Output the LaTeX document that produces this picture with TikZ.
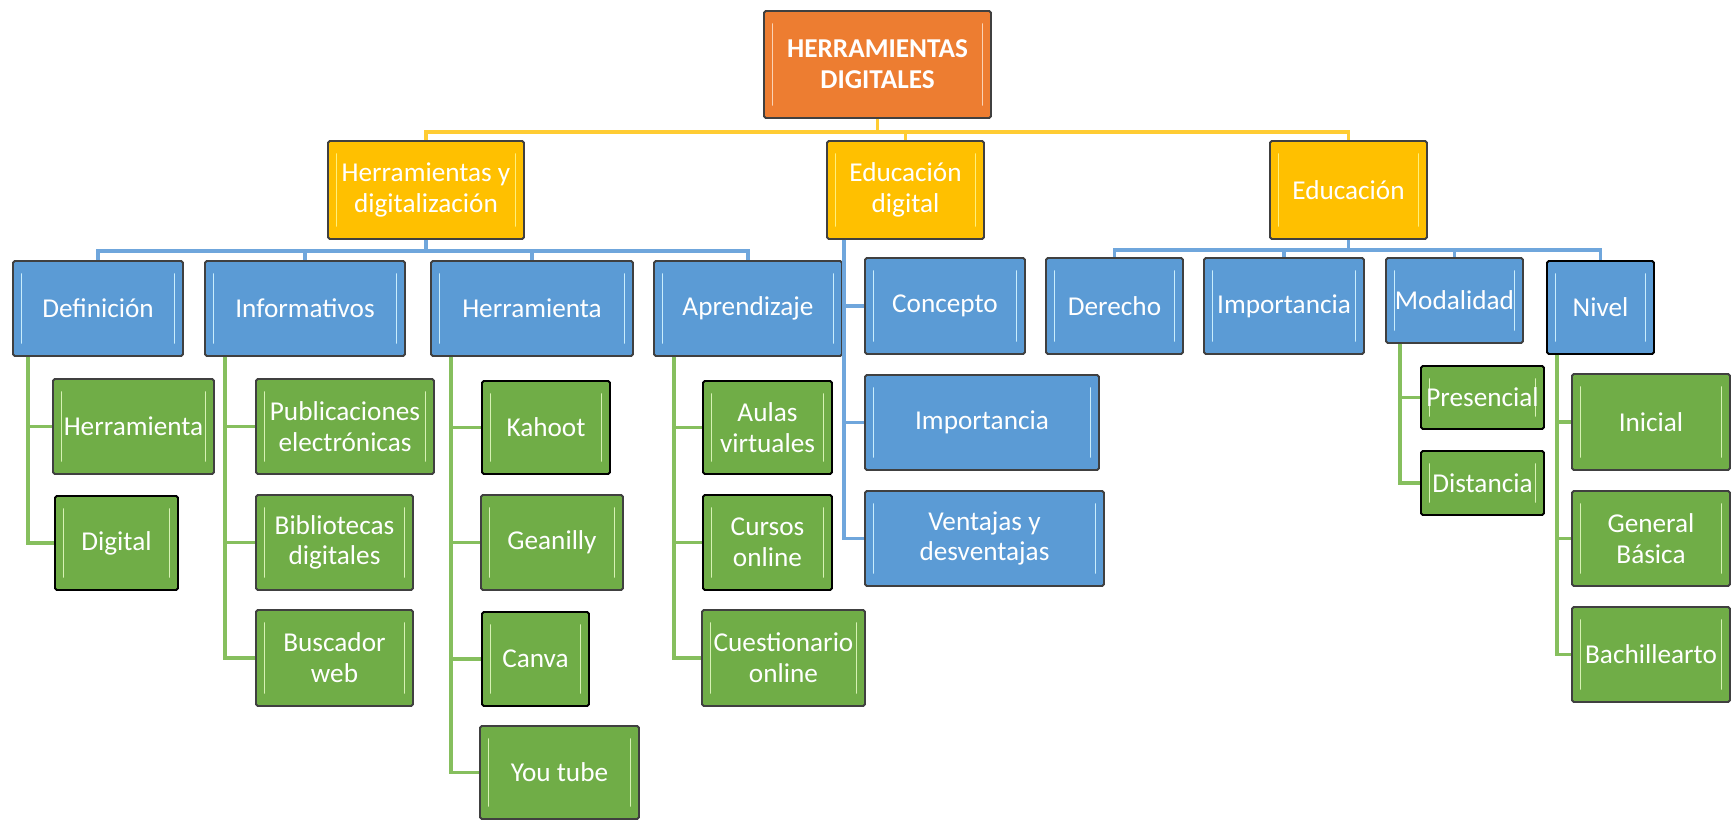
\documentclass[tikz,border=0pt]{standalone}
\usepackage{fontspec}
\setmainfont{Carlito}
\usetikzlibrary{calc}
\definecolor{orangefill}{HTML}{ED7D31}
\definecolor{yellowfill}{HTML}{FFC000}
\definecolor{bluefill}{HTML}{5B9BD5}
\definecolor{greenfill}{HTML}{70AD47}
\definecolor{boxline}{HTML}{404040}
\definecolor{ylinkcol}{HTML}{FFCC33}
\definecolor{blinkcol}{HTML}{6FA6DC}
\definecolor{glinkcol}{HTML}{86BF5E}
\definecolor{orangeglow}{HTML}{FAD3B5}
\definecolor{yellowglow}{HTML}{FFF07A}
\definecolor{blueglow}{HTML}{C9EDFC}
\definecolor{greenglow}{HTML}{D7F2B4}

\begin{document}
\begin{tikzpicture}[
    boxbase/.style={draw=boxline, line width=1.1pt, rounded corners=1pt, text=white,
        align=center, inner sep=0pt, font=\fontsize{15.5}{17.5}\selectfont},
    bevel/.style={path picture={
        \draw[#1, line width=1.1pt, line cap=round]
            ([xshift=0.17cm,yshift=-0.26cm]path picture bounding box.north west) --
            ([xshift=0.17cm,yshift=0.26cm]path picture bounding box.south west);
        \draw[#1, line width=1.1pt, line cap=round]
            ([xshift=-0.17cm,yshift=-0.26cm]path picture bounding box.north east) --
            ([xshift=-0.17cm,yshift=0.26cm]path picture bounding box.south east);}},
    rootbox/.style={boxbase, fill=orangefill, bevel=orangeglow,
        font=\bfseries\fontsize{15.5}{17.5}\selectfont},
    topbox/.style={boxbase, fill=yellowfill, bevel=yellowglow},
    midbox/.style={boxbase, fill=bluefill, bevel=blueglow},
    leafbox/.style={boxbase, fill=greenfill, bevel=greenglow},
    ylink/.style={draw=ylinkcol, line width=1.8pt},
    blink/.style={draw=blinkcol, line width=1.8pt},
    glink/.style={draw=glinkcol, line width=1.8pt}
]
    \useasboundingbox (0,0) rectangle (34.64,-16.4);

    % Define nodes
    \node[rootbox, minimum width=4.54cm, minimum height=2.14cm] (root) at (17.55,-1.29) {HERRAMIENTAS\\DIGITALES};

    \node[topbox, minimum width=3.92cm, minimum height=1.96cm] (hyd) at (8.52,-3.80) {Herramientas y\\digitalización};
    \node[topbox, minimum width=3.14cm, minimum height=1.96cm] (edd) at (18.11,-3.80) {Educación\\digital};
    \node[topbox, minimum width=3.14cm, minimum height=1.96cm] (edu) at (26.97,-3.80) {Educación};

    \node[midbox, minimum width=3.40cm, minimum height=1.90cm] (def) at (1.96,-6.17) {Definición};
    \node[midbox, minimum width=4.00cm, minimum height=1.90cm] (inf) at (6.10,-6.17) {Informativos};
    \node[midbox, minimum width=4.04cm, minimum height=1.90cm] (her) at (10.64,-6.17) {Herramienta};
    \node[midbox, minimum width=3.76cm, minimum height=1.90cm] (apr) at (14.96,-6.17) {Aprendizaje};

    \node[midbox, minimum width=3.20cm, minimum height=1.92cm] (con) at (18.90,-6.12) {Concepto};
    \node[midbox, minimum width=4.68cm, minimum height=1.90cm] (imp) at (19.64,-8.45) {Importancia};
    \node[midbox, minimum width=4.78cm, minimum height=1.90cm] (ven) at (19.69,-10.77) {Ventajas y\\desventajas};

    \node[midbox, minimum width=2.74cm, minimum height=1.92cm] (der) at (22.29,-6.12) {Derecho};
    \node[midbox, minimum width=3.20cm, minimum height=1.92cm] (imq) at (25.68,-6.12) {Importancia};
    \node[midbox, minimum width=2.74cm, minimum height=1.70cm] (mod) at (29.09,-6.01) {Modalidad};
    \node[midbox, minimum width=2.14cm, minimum height=1.86cm, draw=black] (niv) at (32.01,-6.15) {Nivel};

    \node[leafbox, minimum width=3.22cm, minimum height=1.90cm] (def1) at (2.67,-8.53) {Herramienta};
    \node[leafbox, minimum width=2.46cm, minimum height=1.88cm, draw=black] (def2) at (2.33,-10.86) {Digital};

    \node[leafbox, minimum width=3.56cm, minimum height=1.90cm] (inf1) at (6.90,-8.53) {Publicaciones\\electrónicas};
    \node[leafbox, minimum width=3.14cm, minimum height=1.90cm] (inf2) at (6.69,-10.85) {Bibliotecas\\digitales};
    \node[leafbox, minimum width=3.14cm, minimum height=1.92cm] (inf3) at (6.69,-13.16) {Buscador\\web};

    \node[leafbox, minimum width=2.56cm, minimum height=1.86cm, draw=black] (her1) at (10.92,-8.55) {Kahoot};
    \node[leafbox, minimum width=2.84cm, minimum height=1.90cm] (her2) at (11.04,-10.85) {Geanilly};
    \node[leafbox, minimum width=2.14cm, minimum height=1.88cm, draw=black] (her3) at (10.71,-13.18) {Canva};
    \node[leafbox, minimum width=3.18cm, minimum height=1.86cm] (her4) at (11.19,-15.45) {You tube};

    \node[leafbox, minimum width=2.58cm, minimum height=1.86cm, draw=black] (apr1) at (15.35,-8.55) {Aulas\\virtuales};
    \node[leafbox, minimum width=2.58cm, minimum height=1.90cm, draw=black] (apr2) at (15.35,-10.85) {Cursos\\online};
    \node[leafbox, minimum width=3.26cm, minimum height=1.92cm] (apr3) at (15.67,-13.16) {Cuestionario\\online};

    \node[leafbox, minimum width=2.46cm, minimum height=1.26cm, draw=black] (mod1) at (29.65,-7.95) {Presencial};
    \node[leafbox, minimum width=2.46cm, minimum height=1.28cm, draw=black] (mod2) at (29.65,-9.66) {Distancia};

    \node[leafbox, minimum width=3.16cm, minimum height=1.92cm] (niv1) at (33.02,-8.44) {Inicial};
    \node[leafbox, minimum width=3.16cm, minimum height=1.90cm] (niv2) at (33.02,-10.77) {General\\Básica};
    \node[leafbox, minimum width=3.16cm, minimum height=1.90cm] (niv3) at (33.02,-13.09) {Bachillearto};

    % Draw edges
    \draw[ylink] (root.south) -- ++(0,-0.26) coordinate (rootbus);
    \foreach \n in {hyd,edd,edu}
        \draw[ylink] (rootbus) -| (\n.north);

    \draw[blink] (hyd.south) -- ++(0,-0.22) coordinate (hydbus);
    \foreach \n in {def,inf,her,apr}
        \draw[blink] (hydbus) -| (\n.north);

    \foreach \n in {con,imp,ven}
        \draw[blink] ([xshift=0.36cm]edd.south west) |- (\n.west);

    \draw[blink] (edu.south) -- ++(0,-0.2) coordinate (edubus);
    \foreach \n in {der,imq,mod,niv}
        \draw[blink] (edubus) -| (\n.north);

    \foreach \n in {def1,def2}
        \draw[glink] ([xshift=0.32cm]def.south west) |- (\n.west);
    \foreach \n in {inf1,inf2,inf3}
        \draw[glink] ([xshift=0.42cm]inf.south west) |- (\n.west);
    \foreach \n in {her1,her2,her3,her4}
        \draw[glink] ([xshift=0.42cm]her.south west) |- (\n.west);
    \foreach \n in {apr1,apr2,apr3}
        \draw[glink] ([xshift=0.42cm]apr.south west) |- (\n.west);
    \foreach \n in {mod1,mod2}
        \draw[glink] ([xshift=0.30cm]mod.south west) |- (\n.west);
    \foreach \n in {niv1,niv2,niv3}
        \draw[glink] ([xshift=0.22cm]niv.south west) |- (\n.west);

\end{tikzpicture}
\end{document}
